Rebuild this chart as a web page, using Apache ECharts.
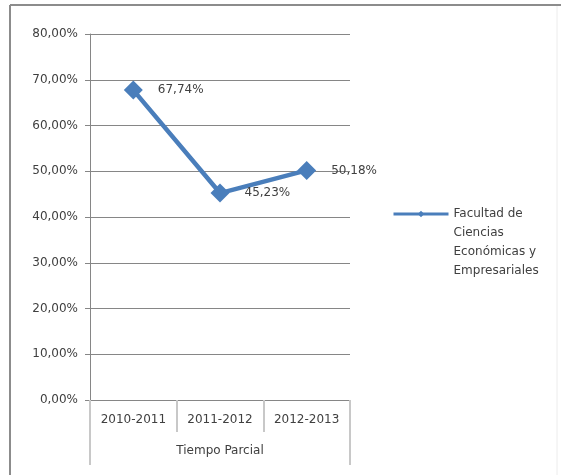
<!DOCTYPE html>
<html>
<head>
<meta charset="utf-8">
<script src="https://cdn.jsdelivr.net/npm/echarts@6/dist/echarts.min.js"></script>
<style>html,body{margin:0;padding:0;background:#fff}#c{width:561px;height:475px}</style>
</head>
<body>
<div id="c"></div>
<script>
const categories = ['2010-2011', '2011-2012', '2012-2013'];
const groupLabels = ['Tiempo Parcial'];
const seriesName = 'Facultad de\nCiencias\nEconómicas y\nEmpresariales';
const values = [67.74, 45.23, 50.18];
const yMin = 0, yMax = 80, yStep = 10;

const fmt = v => v.toFixed(2).replace('.', ',') + '%';
const FONT = 'DejaVu Sans';
const chart = echarts.init(document.getElementById('c'), null, {renderer: 'canvas'});
chart.setOption({
  animation: false,
  backgroundColor: '#ffffff',
  textStyle: {fontFamily: FONT},
  grid: {left: 90, right: 211, top: 34, bottom: 75, containLabel: false},
  xAxis: [{
    type: 'category',
    data: categories,
    boundaryGap: true,
    axisLine: {show: true, lineStyle: {color: '#868686', width: 1}},
    axisTick: {show: true, interval: 0, length: 32, lineStyle: {color: '#c8c8c8', width: 2}},
    axisLabel: {interval: 0, color: '#404040', fontSize: 12, fontFamily: FONT, margin: 14}
  }, {
    type: 'category',
    data: groupLabels,
    position: 'bottom',
    offset: 32,
    boundaryGap: true,
    axisLine: {show: false},
    axisTick: {show: true, length: 33, lineStyle: {color: '#c8c8c8', width: 2}},
    axisLabel: {color: '#404040', fontSize: 12, fontFamily: FONT, margin: 13}
  }],
  yAxis: {
    type: 'value',
    min: yMin, max: yMax, interval: yStep,
    axisLine: {show: true, lineStyle: {color: '#868686', width: 1}},
    axisTick: {show: true, length: 5, lineStyle: {color: '#868686'}},
    axisLabel: {formatter: fmt, color: '#404040', fontSize: 12, fontFamily: FONT, margin: 12},
    splitLine: {show: true, lineStyle: {color: '#868686', width: 1}}
  },
  legend: {
    show: true,
    left: 387, top: 165,
    orient: 'vertical',
    itemWidth: 55, itemHeight: 8,
    itemGap: 5,
    lineStyle: {width: 3},
    formatter: name => '{pad| }\n' + name.split('\n').map(s => '{t|' + s + '}').join('\n'),
    textStyle: {
      color: '#404040', fontSize: 12, fontFamily: FONT,
      rich: {
        pad: {lineHeight: 57, fontSize: 12},
        t: {lineHeight: 19, fontSize: 12, color: '#404040', fontFamily: FONT}
      }
    }
  },
  graphic: [
    {type: 'line', shape: {x1: 10, y1: 5, x2: 561, y2: 5}, style: {stroke: '#8c8c8c', lineWidth: 2}, silent: true},
    {type: 'line', shape: {x1: 10, y1: 5, x2: 10, y2: 475}, style: {stroke: '#8c8c8c', lineWidth: 2}, silent: true},
    {type: 'line', shape: {x1: 557, y1: 6, x2: 557, y2: 475}, style: {stroke: '#ececec', lineWidth: 1}, silent: true}
  ],
  series: [{
    name: seriesName,
    type: 'line',
    data: values,
    symbol: 'diamond',
    symbolSize: 19,
    lineStyle: {color: '#4a7ebb', width: 4.5},
    itemStyle: {color: '#4a7ebb'},
    label: {
      show: true, position: 'right', distance: 15,
      formatter: p => fmt(p.value),
      color: '#404040', fontSize: 12, fontFamily: FONT
    }
  }]
});
</script>
</body>
</html>
